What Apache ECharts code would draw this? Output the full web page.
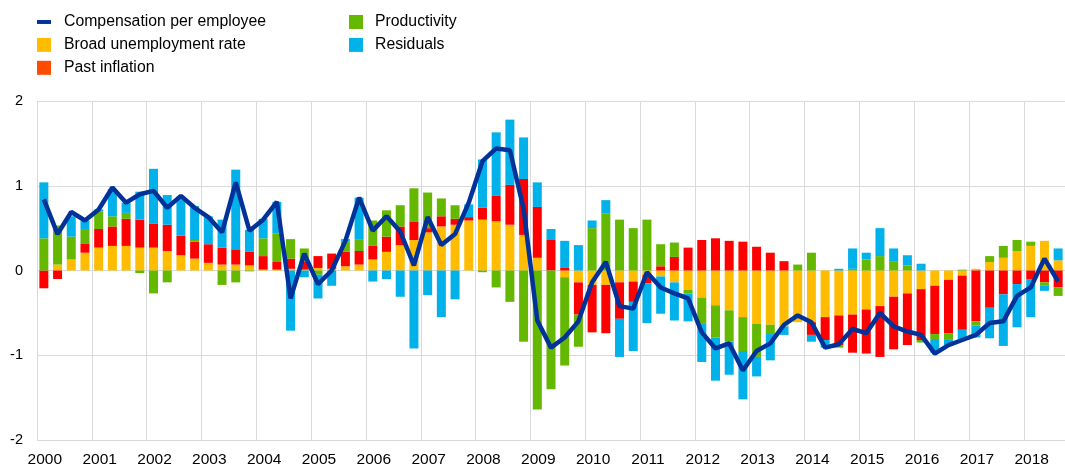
<!DOCTYPE html>
<html>
<head>
<meta charset="utf-8">
<script src="https://cdn.jsdelivr.net/npm/echarts@6/dist/echarts.min.js"></script>
<style>
  html, body { margin: 0; padding: 0; background: #fff; }
  #chart { width: 1065px; height: 468px; }
</style>
</head>
<body>
<div id="chart"></div>
<script>
// quarterly, 2000Q1 - 2018Q3
const years = ["2000", "2001", "2002", "2003", "2004", "2005", "2006", "2007", "2008", "2009",
  "2010", "2011", "2012", "2013", "2014", "2015", "2016", "2017", "2018"]
const quarters = ["Q1", "Q2", "Q3", "Q4"]
const categories = []
years.forEach(y => quarters.forEach(q => categories.push(y + q)))
categories.length = 75

const unemployment = [0, 0.07, 0.13, 0.21, 0.27, 0.29, 0.29, 0.27, 0.27, 0.23, 0.18, 0.14,
  0.09, 0.07, 0.07, 0.06, 0.01, 0.01, 0.02, 0.01, 0.03, 0.02, 0.05, 0.07,
  0.13, 0.22, 0.30, 0.36, 0.45, 0.52, 0.54, 0.59, 0.60, 0.58, 0.54, 0.42,
  0.15, 0, -0.08, -0.14, -0.17, -0.17, -0.14, -0.13, -0.05, -0.07, -0.14, -0.23,
  -0.32, -0.41, -0.47, -0.55, -0.63, -0.64, -0.66, -0.61, -0.61, -0.55, -0.53, -0.52,
  -0.46, -0.42, -0.31, -0.27, -0.22, -0.18, -0.11, -0.06, 0.02, 0.10, 0.15, 0.23,
  0.29, 0.35, 0.12]
const pastInflation = [-0.21, -0.10, 0, 0.11, 0.22, 0.23, 0.32, 0.33, 0.28, 0.31, 0.23, 0.20,
  0.22, 0.20, 0.18, 0.16, 0.16, 0.09, 0.12, 0.09, 0.14, 0.18, 0.17, 0.16,
  0.16, 0.18, 0.22, 0.22, 0.05, 0.12, 0.07, 0.04, 0.14, 0.30, 0.47, 0.66,
  0.60, 0.36, 0.03, -0.38, -0.56, -0.57, -0.43, -0.24, -0.10, 0.05, 0.16, 0.27,
  0.36, 0.38, 0.35, 0.34, 0.28, 0.21, 0.11, 0, -0.15, -0.27, -0.35, -0.45,
  -0.52, -0.60, -0.62, -0.61, -0.60, -0.57, -0.63, -0.64, -0.60, -0.44, -0.28, -0.16,
  -0.10, -0.14, -0.20]
const productivity = [0.38, 0.46, 0.27, 0.17, 0.21, 0.12, 0.07, -0.03, -0.27, -0.14, 0, 0.02,
  0, -0.17, -0.14, -0.01, 0.21, 0.34, 0.23, 0.16, -0.05, 0, 0.12, 0.14,
  0.30, 0.31, 0.25, 0.39, 0.42, 0.21, 0.16, 0, -0.02, -0.20, -0.37, -0.84,
  -1.64, -1.40, -1.04, -0.38, 0.50, 0.67, 0.60, 0.50, 0.60, 0.26, 0.17, -0.04,
  -0.31, -0.38, -0.37, -0.40, -0.39, -0.11, 0, 0.07, 0.21, 0, -0.03, 0.02,
  0.13, 0.17, 0.11, 0.06, -0.03, -0.07, -0.07, 0.01, -0.05, 0.07, 0.14, 0.13,
  0.05, -0.04, -0.10]
const residuals = [0.66, 0, 0.24, 0.10, 0.02, 0.32, 0.12, 0.33, 0.65, 0.35, 0.46, 0.40,
  0.33, 0.33, 0.94, 0.26, 0.23, 0.37, -0.71, -0.08, -0.28, -0.18, 0.03, 0.49,
  -0.13, -0.10, -0.31, -0.92, -0.29, -0.55, -0.34, 0.15, 0.57, 0.75, 0.77, 0.49,
  0.29, 0.13, 0.32, 0.30, 0.09, 0.16, -0.45, -0.58, -0.47, -0.44, -0.45, -0.33,
  -0.45, -0.51, -0.39, -0.57, -0.23, -0.31, -0.10, 0, -0.08, -0.09, 0.02, 0.24,
  0.08, 0.33, 0.15, 0.12, 0.08, -0.15, -0.07, -0.11, -0.14, -0.36, -0.61, -0.51,
  -0.45, -0.06, 0.14]
const compensation = [0.84, 0.43, 0.69, 0.59, 0.72, 0.98, 0.80, 0.90, 0.94, 0.74, 0.88, 0.74,
  0.63, 0.45, 1.04, 0.47, 0.60, 0.81, -0.33, 0.20, -0.16, 0.00, 0.35, 0.86,
  0.47, 0.64, 0.46, 0.06, 0.63, 0.30, 0.43, 0.80, 1.29, 1.44, 1.42, 0.73,
  -0.59, -0.91, -0.79, -0.60, -0.14, 0.10, -0.42, -0.45, -0.02, -0.20, -0.27, -0.33,
  -0.73, -0.92, -0.86, -1.18, -0.95, -0.86, -0.64, -0.53, -0.61, -0.91, -0.87, -0.69,
  -0.74, -0.50, -0.66, -0.72, -0.76, -0.98, -0.88, -0.82, -0.76, -0.62, -0.60, -0.30,
  -0.20, 0.14, -0.13]
const yTicks = [-2, -1, 0, 1, 2]

const font = "'Liberation Sans', Arial, sans-serif"
const colors = {
  comp: "#003299",
  unemp: "#ffbc00",
  infl: "#ff0000",
  prod: "#65b800",
  resid: "#00b1ea"
}

function barSeries(name, data, color) {
  return {
    name,
    type: "bar",
    stack: "total",
    barWidth: 9,
    itemStyle: { color },
    data
  }
}

const chart = echarts.init(document.getElementById("chart"))

const legendBase = {
  orient: "vertical",
  top: 14,
  padding: 0,
  itemWidth: 14,
  itemHeight: 14,
  itemGap: 6.9,
  icon: "rect",
  textStyle: { fontFamily: font, fontSize: 15.8, color: "#000" }
}

chart.setOption({
  animation: false,
  legend: [
    Object.assign({}, legendBase, {
      left: 37,
      textStyle: Object.assign({}, legendBase.textStyle, { padding: [0, 0, 0, 8] }),
      data: [
        { name: "Compensation per employee", icon: "path://M0,0H16V4.5H0Z" },
        { name: "Broad unemployment rate" },
        { name: "Past inflation", itemStyle: { color: "#ff4b00" } }
      ]
    }),
    Object.assign({}, legendBase, {
      left: 349,
      textStyle: Object.assign({}, legendBase.textStyle, { padding: [0, 0, 0, 7] }),
      data: ["Productivity", "Residuals"]
    })
  ],
  grid: { left: 37, right: 0, top: 101, bottom: 25.4, containLabel: false },
  xAxis: {
    type: "category",
    data: categories,
    boundaryGap: true,
    axisLine: { show: false },
    axisTick: { show: false },
    axisLabel: {
      interval: (i) => i % 4 === 0,
      formatter: (v) => v.slice(0, 4),
      fontFamily: font,
      fontSize: 15.5,
      color: "#000",
      margin: 12,
      padding: [0, 0, 0, 2]
    },
    splitLine: {
      show: true,
      interval: (i) => i % 4 === 0,
      lineStyle: { color: "#d9d9d9", width: 1 }
    }
  },
  yAxis: {
    type: "value",
    min: yTicks[0],
    max: yTicks[yTicks.length - 1],
    interval: 1,
    axisLine: { show: false },
    axisTick: { show: false },
    axisLabel: { fontFamily: font, fontSize: 14.5, color: "#000", margin: 14 },
    splitLine: { lineStyle: { color: "#d9d9d9", width: 1 } }
  },
  series: [
    barSeries("Broad unemployment rate", unemployment, colors.unemp),
    barSeries("Past inflation", pastInflation, colors.infl),
    barSeries("Productivity", productivity, colors.prod),
    barSeries("Residuals", residuals, colors.resid),
    {
      name: "Compensation per employee",
      type: "line",
      data: compensation,
      showSymbol: false,
      symbol: "none",
      z: 5,
      itemStyle: { color: colors.comp },
      lineStyle: { color: colors.comp, width: 4.5 }
    }
  ]
})
</script>
</body>
</html>
